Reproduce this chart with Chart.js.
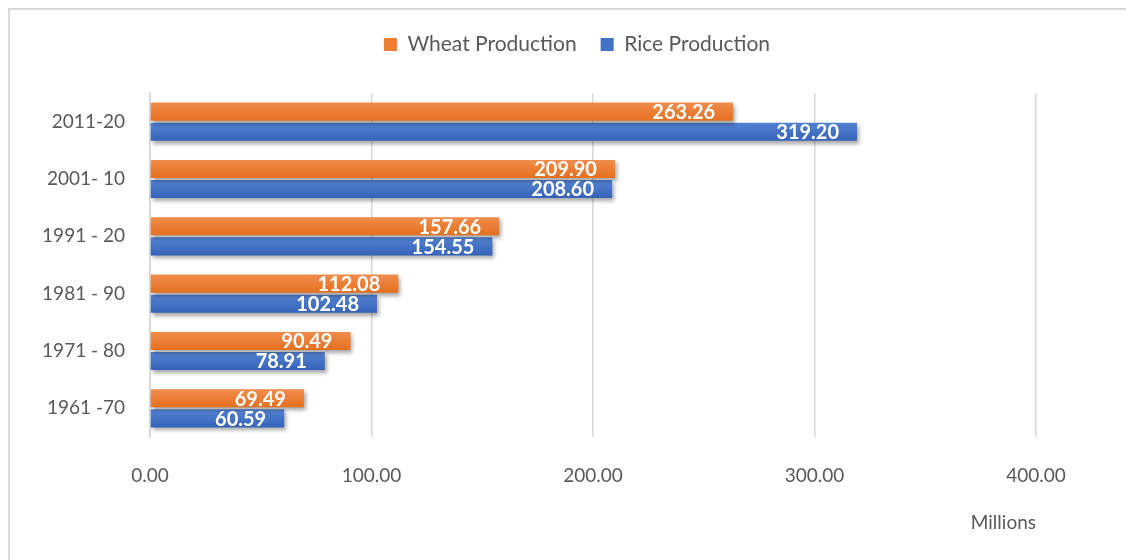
<!DOCTYPE html>
<html>
<head>
<meta charset="utf-8">
<script src="https://cdn.jsdelivr.net/npm/chart.js@4.4.1/dist/chart.umd.min.js"></script>
<style>
    html, body { margin: 0; padding: 0; background: #fff; overflow: hidden; }
    #frame {
        position: absolute; left: 8px; top: 8px;
        width: 1130px; height: 560px;
        border: 2px solid #d9d9d9; box-sizing: border-box;
    }
    #chart { display: block; }
</style>
</head>
<body>
<div id="frame"><canvas id="chart" width="1116" height="550"></canvas></div>
<script>
const periods = ["2011-20", "2001- 10", "1991 - 20", "1981 - 90", "1971 - 80", "1961 -70"];
const wheatProduction = [263.26, 209.90, 157.66, 112.08, 90.49, 69.49];
const riceProduction = [319.20, 208.60, 154.55, 102.48, 78.91, 60.59];
const xTicks = [0, 100, 200, 300, 400];

const FONT = "Lato, 'Open Sans', sans-serif";

// extra room under the legend, and centre it over the plot instead of the canvas
const legendTweak = {
    id: 'legendTweak',
    beforeInit(chart) {
        const legend = chart.legend;
        const fit = legend.fit;
        legend.fit = function () {
            fit.call(legend);
            this.height += 28;
        };
        const draw = legend.draw;
        legend.draw = function () {
            chart.ctx.save();
            chart.ctx.translate(54, 0);
            draw.call(legend);
            chart.ctx.restore();
        };
    }
};

// gradient + drop shadow for the bars
const barStyle = {
    id: 'barStyle',
    beforeDatasetsDraw(chart) {
        const ctx = chart.ctx;
        const shades = [["#f28c4c", "#e4701f"], ["#5482d2", "#3563b8"]];
        chart.data.datasets.forEach((ds, i) => {
            chart.getDatasetMeta(i).data.forEach(el => {
                const top = el.y - el.height / 2;
                const g = ctx.createLinearGradient(0, top, 0, top + el.height);
                g.addColorStop(0, shades[i][0]);
                g.addColorStop(1, shades[i][1]);
                el.options = Object.assign({}, el.options, { backgroundColor: g });
            });
        });
        ctx.save();
        ctx.shadowColor = "rgba(0,0,0,0.35)";
        ctx.shadowBlur = 4;
        ctx.shadowOffsetX = 2;
        ctx.shadowOffsetY = 3;
    },
    afterDatasetsDraw(chart) {
        chart.ctx.restore();
    }
};

// white values at the inner end of each bar
const valueLabels = {
    id: 'valueLabels',
    afterDatasetsDraw(chart) {
        const ctx = chart.ctx;
        ctx.save();
        ctx.fillStyle = "#ffffff";
        ctx.font = "bold 20px " + FONT;
        ctx.textAlign = "right";
        ctx.textBaseline = "middle";
        chart.data.datasets.forEach((ds, i) => {
            chart.getDatasetMeta(i).data.forEach((el, j) => {
                ctx.fillText(ds.data[j].toFixed(2), el.x - 18, el.y + 1);
            });
        });
        ctx.restore();
    }
};

new Chart(document.getElementById("chart"), {
    type: "bar",
    data: {
        labels: periods,
        datasets: [
            {
                label: "Wheat Production",
                data: wheatProduction,
                backgroundColor: "#ed7d31",
                categoryPercentage: 0.7,
                barPercentage: 0.9
            },
            {
                label: "Rice Production",
                data: riceProduction,
                backgroundColor: "#4472c4",
                categoryPercentage: 0.7,
                barPercentage: 0.9
            }
        ]
    },
    options: {
        indexAxis: "y",
        responsive: false,
        animation: false,
        layout: { padding: { top: 0, right: 90, bottom: 0, left: 0 } },
        plugins: {
            legend: {
                position: "top",
                labels: {
                    color: "#595959",
                    font: { family: FONT, size: 21 },
                    boxWidth: 13,
                    boxHeight: 13,
                    padding: 24
                }
            },
            tooltip: { enabled: false }
        },
        scales: {
            x: {
                min: 0,
                max: 400,
                afterBuildTicks(scale) {
                    scale.ticks = xTicks.map(v => ({ value: v }));
                },
                afterFit(scale) { scale.height = 123; },
                grid: { color: "#d9d9d9", lineWidth: 1.5, drawTicks: false },
                border: { display: false },
                ticks: {
                    color: "#595959",
                    font: { family: FONT, size: 19 },
                    padding: 27,
                    callback: v => v.toFixed(2)
                },
                title: {
                    display: true,
                    text: "Millions",
                    align: "end",
                    color: "#595959",
                    font: { family: FONT, size: 19 },
                    padding: { top: 0, bottom: 26 }
                }
            },
            y: {
                afterFit(scale) { scale.width = 140; },
                grid: { display: false, drawTicks: false },
                border: { display: true, color: "#d9d9d9", width: 2 },
                ticks: {
                    color: "#595959",
                    font: { family: FONT, size: 19 },
                    padding: 25
                }
            }
        }
    },
    plugins: [legendTweak, barStyle, valueLabels]
});
</script>
</body>
</html>
